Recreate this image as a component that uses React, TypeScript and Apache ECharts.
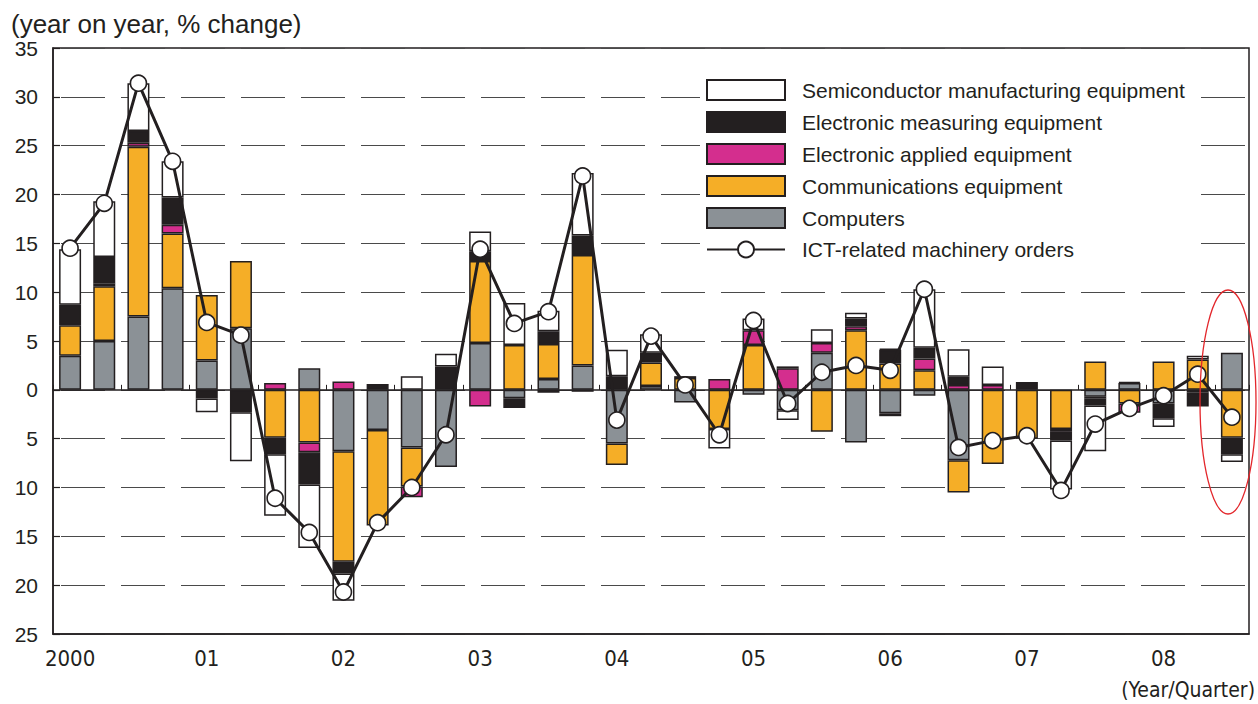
import React, { useEffect, useRef } from "react";
import * as echarts from "echarts";

// 2000 Q1 ... 2008 Q3 (35 quarters)
const yearLabels = ["2000", "01", "02", "03", "04", "05", "06", "07", "08"];
const quarters: string[] = [];
for (let y = 0; y < yearLabels.length; y++) {
  for (let q = 1; q <= 4; q++) {
    if (quarters.length < 35) quarters.push(yearLabels[y] + " Q" + q);
  }
}

const computers = [3.5, 5.0, 7.5, 10.4, 3.0, 6.3, 0, 2.2, -6.3, -4.1, -5.9, -7.9, 4.8, -0.85, 1.1, 2.5, -5.5, 0.4, -1.3, 0, -0.5, -2.1, 3.8, -5.4, -2.4, -0.6, -7.2, 0, 0, 0, -0.7, 0.7, -1.4, 0, 3.8];
const communications = [3.1, 5.6, 17.4, 5.6, 6.7, 6.9, -4.9, -5.4, -11.3, -9.8, -4.0, 0, 8.4, 4.6, 3.6, 11.3, -2.2, 2.4, 1.2, -4.0, 4.6, 0, -4.3, 6.1, 2.7, 2.0, -3.3, -7.6, -5.0, -4.0, 2.9, -1.4, 2.9, 3.1, -4.9];
const applied = [0, 0.3, 0.4, 0.9, 0, 0, 0.7, -1.0, 0.85, 0, -1.1, 0, -1.7, 0, -0.3, -0.2, 0, 0, 0, 1.1, 1.5, 2.2, 1.0, 0.4, -0.3, 1.2, 0.5, 0.5, 0, -0.3, -0.2, -0.95, 0, -0.3, 0];
const measuring = [2.1, 2.7, 1.2, 2.8, -0.9, -2.3, -1.7, -3.3, -1.2, 0.6, 0, 2.4, 1.0, -1.0, 1.3, 2.0, 1.4, 1.0, 0.2, 0, 0, 0.2, 0, 0.8, 1.4, 1.1, 0.85, 0, 0.8, -0.9, -0.7, 0.1, -1.5, -1.4, -1.7];
const semiconductor = [5.7, 5.7, 4.9, 3.7, -1.4, -5.0, -6.3, -6.5, -2.8, 0, 1.4, 1.3, 2.0, 4.3, 2.1, 6.4, 2.7, 1.9, 0, -2.0, 1.2, -1.0, 1.4, 0.6, 0.1, 6.0, 2.8, 1.9, 0, -5.0, -4.7, 0, -0.9, 0.4, -0.8];
const ictOrders = [14.5, 19.1, 31.4, 23.4, 6.9, 5.6, -11.1, -14.6, -20.7, -13.6, -10.0, -4.6, 14.4, 6.8, 8.0, 21.9, -3.1, 5.5, 0.5, -4.6, 7.1, -1.4, 1.8, 2.5, 2.0, 10.3, -5.9, -5.2, -4.7, -10.3, -3.5, -1.9, -0.6, 1.6, -2.8];

const yTicks = { min: -25, max: 35, interval: 5 };

const INK = "#231f20";
const FONT = "'Liberation Sans', Arial, sans-serif";
const NARROW = "'Liberation Sans Narrow', 'DejaVu Sans Condensed', 'Liberation Sans', sans-serif";

const names = {
  semi: "Semiconductor manufacturing equipment",
  meas: "Electronic measuring equipment",
  appl: "Electronic applied equipment",
  comm: "Communications equipment",
  comp: "Computers",
  ict: "ICT-related machinery orders",
};

const nz = (arr: number[]) => arr.map((v) => (v === 0 ? "-" : v));

export default function App() {
  const ref = useRef<HTMLDivElement>(null);
  useEffect(() => {
    if (!ref.current) return;
    const chart = echarts.init(ref.current, null, { renderer: "svg" });
    const barBase = (name: string, data: number[], color: string) => ({
      name,
      type: "bar",
      stack: "total",
      barWidth: 22,
      xAxisIndex: 0,
      data: nz(data),
      itemStyle: { color, borderColor: INK, borderWidth: 1.5 },
      z: 2,
    });
    chart.setOption({
      animation: false,
      backgroundColor: "#fff",
      title: {
        text: "(year on year, % change)",
        left: 6,
        top: 6,
        textStyle: { fontFamily: FONT, fontSize: 26, fontWeight: "normal", color: INK },
      },
      grid: {
        left: 53,
        top: 48,
        right: 9,
        bottom: 70,
        show: true,
        borderColor: INK,
        borderWidth: 1.5,
        backgroundColor: "transparent",
      },
      legend: {
        orient: "vertical",
        left: 700,
        top: 73,
        padding: [6, 8, 6, 6],
        backgroundColor: "#fff",
        itemWidth: 78,
        itemHeight: 20,
        itemGap: 10,
        textStyle: { fontFamily: FONT, fontSize: 21, lineHeight: 20, color: INK, padding: [0, 0, 0, 12] },
        data: [
          { name: names.semi, icon: "rect" },
          { name: names.meas, icon: "rect" },
          { name: names.appl, icon: "rect" },
          { name: names.comm, icon: "rect" },
          { name: names.comp, icon: "rect" },
          { name: names.ict },
        ],
      },
      xAxis: [
        {
          type: "category",
          data: quarters,
          position: "bottom",
          axisLine: { onZero: false, lineStyle: { color: INK, width: 1.5 } },
          axisTick: { show: false },
          axisLabel: {
            interval: 0,
            margin: 13,
            fontFamily: NARROW,
            fontSize: 22,
            color: INK,
            formatter: (_v: string, i: number) => (i % 4 === 0 ? yearLabels[i / 4] : ""),
          },
          splitLine: { show: false },
        },
        {
          type: "category",
          data: quarters,
          position: "top",
          axisLine: { onZero: true, lineStyle: { color: INK, width: 1.5 } },
          axisTick: { show: true, inside: false, length: 5, lineStyle: { color: INK, width: 1 } },
          axisLabel: { show: false },
          splitLine: { show: false },
        },
      ],
      yAxis: {
        type: "value",
        min: yTicks.min,
        max: yTicks.max,
        interval: yTicks.interval,
        axisLine: { show: true, onZero: false, lineStyle: { color: INK, width: 1.5 } },
        axisTick: { show: true, inside: true, length: 7, lineStyle: { color: INK, width: 1.2 } },
        axisLabel: {
          margin: 15,
          fontFamily: FONT,
          fontSize: 21,
          color: INK,
          formatter: (v: number) => String(Math.abs(v)),
        },
        splitLine: {
          show: true,
          lineStyle: { color: "#4a4a4a", width: 1.2, type: [44, 16], dashOffset: -8 },
        },
      },
      series: [
        barBase(names.comp, computers, "#8b9196"),
        barBase(names.comm, communications, "#f5ae27"),
        barBase(names.appl, applied, "#d42e8e"),
        barBase(names.meas, measuring, INK),
        barBase(names.semi, semiconductor, "#ffffff"),
        {
          name: names.ict,
          type: "line",
          xAxisIndex: 0,
          data: ictOrders,
          z: 10,
          symbol: "circle",
          symbolSize: 16,
          lineStyle: { color: INK, width: 3 },
          itemStyle: { color: "#ffffff", borderColor: INK, borderWidth: 1.6 },
        },
      ],
      graphic: [
        {
          type: "ellipse",
          shape: { cx: 1228, cy: 402, rx: 28, ry: 112 },
          style: { fill: "none", stroke: "#e3262b", lineWidth: 1.3 },
          z: 20,
        },
        {
          type: "text",
          right: 3,
          top: 679,
          style: { text: "(Year/Quarter)", fontFamily: NARROW, fontSize: 21, fill: INK },
        },
      ],
    });
    return () => chart.dispose();
  }, []);
  return (
    <div
      ref={ref}
      style={{ position: "fixed", left: 0, top: 0, width: 1258, height: 704 }}
    />
  );
}
